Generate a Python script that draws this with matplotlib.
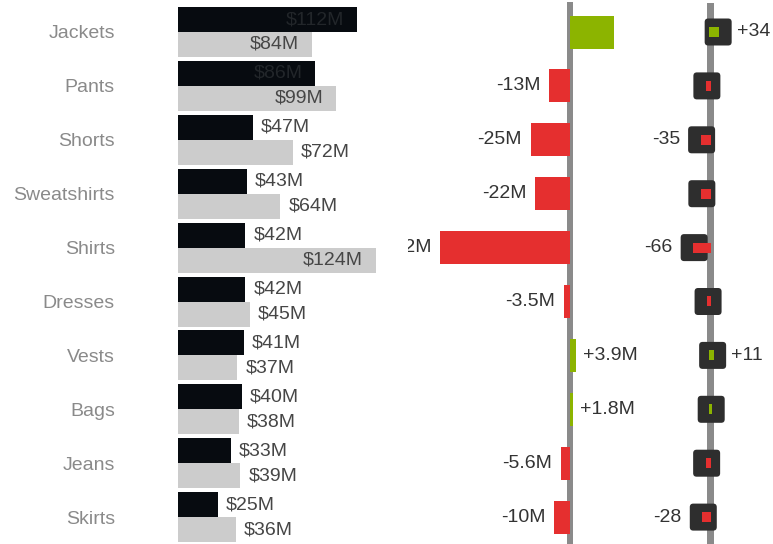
import matplotlib
matplotlib.use("Agg")
import matplotlib.pyplot as plt
from matplotlib.patches import FancyBboxPatch

plt.rcParams['font.family'] = ['Liberation Sans', 'DejaVu Sans']

categories = ["Jackets", "Pants", "Shorts", "Sweatshirts", "Shirts",
              "Dresses", "Vests", "Bags", "Jeans", "Skirts"]
ac = [112, 86, 47, 43, 42, 42, 41, 40, 33, 25]          # current, $M
py = [84, 99, 72, 64, 124, 45, 37, 38, 39, 36]          # previous, $M
delta = [28, -13, -25, -22, -82, -3.5, 3.9, 1.8, -5.6, -10]   # $M
delta_pct = [34, -13, -35, -34, -66, -8, 11, 5, -14, -28]     # %
show_delta_label = [False, True, True, True, True, True, True, True, True, True]
show_pct_label = [True, False, True, False, True, False, True, False, False, True]

W, H = 773, 544
DPI = 100
fig = plt.figure(figsize=(W / DPI, H / DPI), dpi=DPI)

ROW0, ROWSTEP = 32.0, 53.9
ylim = ((H - ROW0) / ROWSTEP, -ROW0 / ROWSTEP)
FS = 14
PT = 72.0 / DPI  # points per pixel

BLACK = "#070b10"
GREY = "#cccccc"
RED = "#e52f2f"
GREEN = "#8cb400"
AXIS = "#8a8a8a"
BOX = "#2e2e2e"
CAT = "#8a8a8a"
LBL = "#464646"

rows = list(range(len(categories)))

def add_ax(x0, x1):
    ax = fig.add_axes([x0 / W, 0, (x1 - x0) / W, 1])
    ax.set_ylim(*ylim)
    ax.axis("off")
    return ax

# ---------------- left panel ----------------
s1 = 1.594
x_l0, x_l1 = 178.3, 406
ax1 = fig.add_axes([x_l0 / W, 0, (x_l1 - x_l0) / W, 1])
ax1.set_ylim(*ylim)
ax1.set_xlim(0, (x_l1 - x_l0) / s1)
for sp in ax1.spines.values():
    sp.set_visible(False)
ax1.set_xticks([])
ax1.set_yticks(rows)
ax1.set_yticklabels(categories, fontsize=FS, color=CAT)
ax1.tick_params(axis="y", length=0, pad=(x_l0 - 115) * PT)

hb = 25 / ROWSTEP
off = 12.5 / ROWSTEP
ax1.barh([r - off for r in rows], ac, height=hb, color=BLACK, zorder=3)
ax1.barh([r + off for r in rows], py, height=hb, color=GREY, zorder=2)

for r, v in zip(rows, ac):
    if v >= 80:
        ax1.annotate(f"${v:.0f}M", (v, r - off), xytext=(-13 * PT, 0), textcoords="offset points",
                     ha="right", va="center", fontsize=FS, color="#22262a", zorder=4)
    else:
        ax1.annotate(f"${v:.0f}M", (v, r - off), xytext=(8 * PT, 0), textcoords="offset points",
                     ha="left", va="center", fontsize=FS, color=LBL, zorder=4)
for r, v in zip(rows, py):
    if v >= 80:
        ax1.annotate(f"${v:.0f}M", (v, r + off), xytext=(-13 * PT, 0), textcoords="offset points",
                     ha="right", va="center", fontsize=FS, color=LBL, zorder=4)
    else:
        ax1.annotate(f"${v:.0f}M", (v, r + off), xytext=(8 * PT, 0), textcoords="offset points",
                     ha="left", va="center", fontsize=FS, color=LBL, zorder=4)

# ---------------- middle panel ----------------
s2 = 1.58
x_m0, x_m1, x_mz = 408, 645, 570
ax2 = add_ax(x_m0, x_m1)
ax2.set_xlim((x_m0 - x_mz) / s2, (x_m1 - x_mz) / s2)
ax2.axvline(0, ymin=0, ymax=1 - 5 / H, color=AXIS, lw=6 * PT, zorder=1)
colors = [GREEN if d >= 0 else RED for d in delta]
ax2.barh(rows, delta, height=33 / ROWSTEP, color=colors, zorder=3)

def fmt_delta(d):
    sign = "+" if d >= 0 else "-"
    a = abs(d)
    s = f"{a:.1f}" if a < 10 else f"{a:.0f}"
    return f"{sign}{s}M"

for r, d, show in zip(rows, delta, show_delta_label):
    if not show:
        continue
    if d >= 0:
        t = ax2.annotate(fmt_delta(d), (d, r), xytext=(7 * PT, 0), textcoords="offset points",
                         ha="left", va="center", fontsize=FS, color="#333333", annotation_clip=False)
    else:
        t = ax2.annotate(fmt_delta(d), (d, r), xytext=(-9 * PT, 0), textcoords="offset points",
                         ha="right", va="center", fontsize=FS, color="#333333", annotation_clip=False)
    t.set_clip_on(True)
    t.set_clip_box(ax2.bbox)

# ---------------- right panel ----------------
s3 = 0.24
x_r0, x_r1, x_rz = 640, 773, 710
ax3 = add_ax(x_r0, x_r1)
ax3.set_xlim((x_r0 - x_rz) / s3, (x_r1 - x_rz) / s3)
ax3.axvline(0, ymin=0, ymax=1 - 6 / H, color=AXIS, lw=7 * PT, zorder=1)

box_px = 27
bw = box_px / s3
bh = box_px / ROWSTEP
rad = 3.5 / s3
aspect = (1 / ROWSTEP) / (1 / s3)
for r, p in zip(rows, delta_pct):
    patch = FancyBboxPatch((p - bw / 2 + rad, r - bh / 2 + rad * aspect),
                           bw - 2 * rad, bh - 2 * rad * aspect,
                           boxstyle=f"round,pad={rad},rounding_size={rad}",
                           mutation_aspect=aspect, facecolor=BOX, edgecolor="none", zorder=3)
    ax3.add_patch(patch)
pcolors = [GREEN if p >= 0 else RED for p in delta_pct]
ax3.barh(rows, delta_pct, height=8 / ROWSTEP, color=pcolors, zorder=4,
         edgecolor=pcolors, linewidth=2 * PT)

for r, p, show in zip(rows, delta_pct, show_pct_label):
    if not show:
        continue
    if p >= 0:
        ax3.annotate(f"+{p:.0f}", (p, r), xytext=((box_px / 2 + 5) * PT, 0), textcoords="offset points",
                     ha="left", va="center", fontsize=FS, color="#333333")
    else:
        ax3.annotate(f"-{abs(p):.0f}", (p, r), xytext=(-(box_px / 2 + 8) * PT, 0), textcoords="offset points",
                     ha="right", va="center", fontsize=FS, color="#333333")

fig.savefig("out.png", dpi=DPI)
